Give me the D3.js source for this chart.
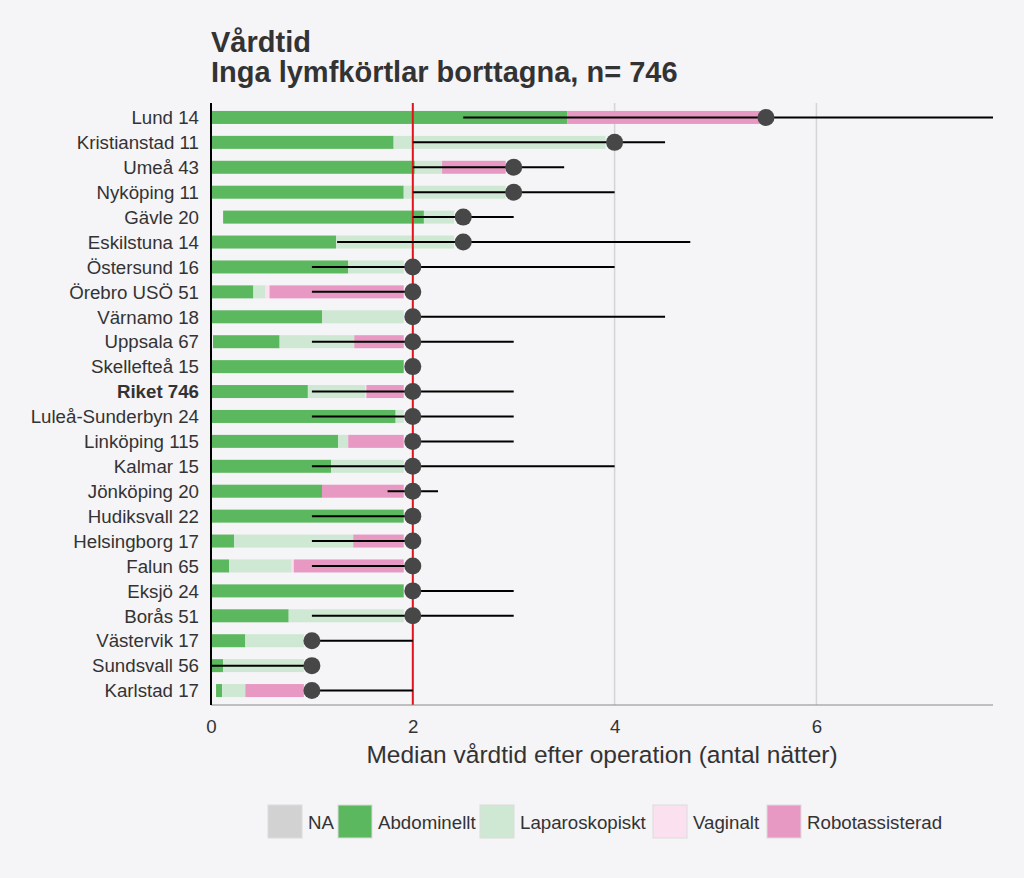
<!DOCTYPE html>
<html>
<head>
<meta charset="utf-8">
<script src="https://cdn.jsdelivr.net/npm/d3@7"></script>
<style>
  html, body { margin: 0; padding: 0; background: #f5f4f7; }
  svg { display: block; font-family: "Liberation Sans", Arial, sans-serif; }
</style>
</head>
<body>
<svg id="chart" width="1024" height="878"></svg>
<script>
// ---- data (nights) ----
const hospitals = ["Lund","Kristianstad","Umeå","Nyköping","Gävle","Eskilstuna","Östersund","Örebro USÖ","Värnamo","Uppsala","Skellefteå","Riket","Luleå-Sunderbyn","Linköping","Kalmar","Jönköping","Hudiksvall","Helsingborg","Falun","Eksjö","Borås","Västervik","Sundsvall","Karlstad"];
const counts = [14,11,43,11,20,14,16,51,18,67,15,746,24,115,15,20,22,17,65,24,51,17,56,17];
const offsetStart = [0,0,0,0,0.12,0,0,0,0,0.02,0,0,0,0,0,0,0,0,0,0,0,0,0,0.05];
const abdominellt = [3.53,1.81,2.02,1.91,1.99,1.24,1.36,0.42,1.10,0.66,1.91,0.96,1.83,1.26,1.19,1.10,1.91,0.23,0.18,1.91,0.77,0.34,0.12,0.06];
const laparoskopiskt = [0,2.10,0.27,1.01,0.30,1.17,0.55,0.12,0.81,0.74,0,0.57,0.08,0.10,0.72,0,0,1.18,0.62,0,1.14,0.58,0.80,0.23];
const vaginalt = [0,0,0,0,0,0,0,0.04,0,0,0,0.01,0,0,0,0,0,0,0.02,0,0,0,0,0];
const robot = [1.91,0,0.63,0,0,0,0,1.33,0,0.49,0,0.37,0,0.55,0,0.81,0,0.50,1.09,0,0,0,0,0.58];
const naValues = new Array(24).fill(0);
const medianNights = [5.5,4,3,3,2.5,2.5,2,2,2,2,2,2,2,2,2,2,2,2,2,2,2,1,1,1];
const lowNights = [2.5,2,2,2,2,1.25,1,1,2,1,2,1,1,2,1,1.75,1,1,1,2,1,1,0,1];
const highNights = [7.75,4.5,3.5,4,3,4.75,4,2,4.5,3,2,3,3,3,4,2.25,2,2,2,3,3,2,1,2];
const rikeMedian = 2;
const xTicks = [0,2,4,6];
const legendLabels = ["NA","Abdominellt","Laparoskopiskt","Vaginalt","Robotassisterad"];
const legendColors = ["#d2d2d2","#5cb85f","#cfe8d3","#fbe0ef","#e899c3"];

const seriesKeys = ["Abdominellt","Laparoskopiskt","Vaginalt","Robotassisterad","NA"];
const seriesArrays = [abdominellt, laparoskopiskt, vaginalt, robot, naValues];
const colorOf = {NA:"#d2d2d2", Abdominellt:"#5cb85f", Laparoskopiskt:"#cfe8d3", Vaginalt:"#fbe0ef", Robotassisterad:"#e899c3"};

const rows = hospitals.map((h,i) => {
  const r = {label: h + " " + counts[i], start: offsetStart[i], med: medianNights[i], lo: lowNights[i], hi: highNights[i]};
  seriesKeys.forEach((k,j) => r[k] = seriesArrays[j][i]);
  return r;
});

const svg = d3.select("#chart");
const pLeft = 211, pRight = 993, pTop = 103, pBottom = 705;
const baseFont = 18.7;

const x = d3.scaleLinear().domain([0, 7.75]).range([pLeft, pRight]);
const y = d3.scaleBand().domain(rows.map(d => d.label)).range([pTop, pBottom]).paddingOuter(0.08).paddingInner(0);

// grid
svg.append("g").selectAll("line").data(xTicks.filter(t => t > 0)).join("line")
  .attr("x1", d => x(d)).attr("x2", d => x(d)).attr("y1", pTop).attr("y2", pBottom)
  .attr("stroke", "#d4d4d6").attr("stroke-width", 1.5);

// stacked bars
const barH = 13;
rows.forEach(r => {
  let cum = r.start;
  seriesKeys.forEach(k => {
    const v = r[k];
    if (v > 0) {
      svg.append("rect")
        .attr("x", x(cum)).attr("width", x(cum + v) - x(cum))
        .attr("y", y(r.label) + y.bandwidth()/2 - barH/2).attr("height", barH)
        .attr("fill", colorOf[k]);
    }
    cum += v;
  });
});

// red reference line
svg.append("line").attr("x1", x(rikeMedian)).attr("x2", x(rikeMedian))
  .attr("y1", pTop).attr("y2", pBottom).attr("stroke", "#e3141b").attr("stroke-width", 2);

// range lines
svg.append("g").selectAll("line").data(rows.filter(d => d.hi > d.lo)).join("line")
  .attr("x1", d => x(d.lo)).attr("x2", d => x(d.hi))
  .attr("y1", d => y(d.label) + y.bandwidth()/2).attr("y2", d => y(d.label) + y.bandwidth()/2)
  .attr("stroke", "#000").attr("stroke-width", 2);

// medians
svg.append("g").selectAll("circle").data(rows).join("circle")
  .attr("cx", d => x(d.med)).attr("cy", d => y(d.label) + y.bandwidth()/2)
  .attr("r", 8.5).attr("fill", "#474747");

// axes lines
svg.append("line").attr("x1", pLeft).attr("x2", pRight).attr("y1", pBottom).attr("y2", pBottom)
  .attr("stroke", "#8a8a8a").attr("stroke-width", 1.2);
svg.append("line").attr("x1", pLeft).attr("x2", pLeft).attr("y1", pTop).attr("y2", pBottom)
  .attr("stroke", "#000").attr("stroke-width", 2);

// y labels
svg.append("g").selectAll("text").data(rows).join("text")
  .attr("x", 199).attr("y", d => y(d.label) + y.bandwidth()/2)
  .attr("dy", "0.36em").attr("text-anchor", "end")
  .attr("font-size", baseFont).attr("fill", "#333")
  .attr("font-weight", d => d.label.startsWith("Riket") ? "bold" : "normal")
  .text(d => d.label);

// x axis labels
const xAxis = d3.axisBottom(x).tickValues(xTicks).tickSize(0).tickPadding(14.7).tickFormat(d3.format("d"));
const gx = svg.append("g").attr("transform", `translate(0,${pBottom})`).call(xAxis);
gx.select(".domain").remove();
gx.selectAll("text").attr("font-size", baseFont).attr("fill", "#333").attr("font-family", "Liberation Sans, Arial, sans-serif");

svg.append("text").attr("x", (pLeft + pRight)/2).attr("y", 763).attr("text-anchor", "middle")
  .attr("font-size", 24.5).attr("fill", "#333").text("Median vårdtid efter operation (antal nätter)");

// title
svg.append("text").attr("x", 211).attr("y", 52).attr("font-size", 29).attr("font-weight", "bold")
  .attr("fill", "#333").text("Vårdtid");
svg.append("text").attr("x", 211).attr("y", 82).attr("font-size", 29).attr("font-weight", "bold")
  .attr("fill", "#333").text("Inga lymfkörtlar borttagna, n= 746");

// legend
const legendX = [268, 338, 480, 653, 767];
const lg = svg.append("g");
legendLabels.forEach((lab, i) => {
  lg.append("rect").attr("x", legendX[i]).attr("y", 805).attr("width", 34).attr("height", 33)
    .attr("fill", legendColors[i]).attr("stroke", "#dcdcdc").attr("stroke-width", 1);
  lg.append("text").attr("x", legendX[i] + 40).attr("y", 822).attr("dy", "0.36em")
    .attr("font-size", baseFont).attr("fill", "#333").text(lab);
});
</script>
</body>
</html>
